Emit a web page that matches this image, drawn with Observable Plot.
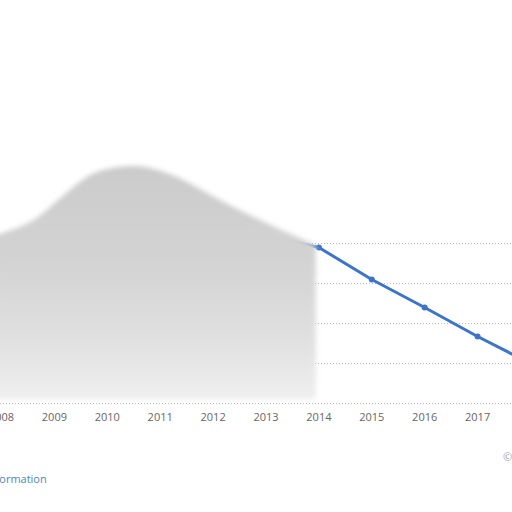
<!DOCTYPE html>
<html>
<head>
<meta charset="utf-8">
<script src="https://cdn.jsdelivr.net/npm/d3@7"></script>
<script src="https://cdn.jsdelivr.net/npm/@observablehq/plot@0.6"></script>
<style>
  html, body { margin: 0; padding: 0; background: #fff; width: 512px; height: 512px; overflow: hidden; position: relative; font-family: "Open Sans", sans-serif; }
  #chart { position: absolute; left: 0; top: 0; }
  .note { position: absolute; font-family: "Open Sans", sans-serif; font-size: 11px; white-space: nowrap; }
</style>
</head>
<body>
<div id="chart"></div>
<div class="note" style="left:-44px; top:471px; color:#4f86b5;">More information</div>
<div class="note" style="left:503px; top:449px; color:#9aa3ad;">© Statista</div>
<script>
// Years on the x axis and the series values (hidden years estimated)
const years  = [2008, 2009, 2010, 2011, 2012, 2013, 2014, 2015, 2016, 2017, 2018];
const values = [76, 90, 104, 102, 92, 84, 78, 62, 48, 33.5, 20];
// Grey obscuring blob over the left part of the chart (top edge profile)
const maskX   = [2007.9, 2008.5, 2008.83, 2009.4, 2009.78, 2010.44, 2010.8, 2011.38, 2011.95, 2012.5, 2013.1, 2013.65, 2013.95];
const maskTop = [84, 89, 95.5, 109, 116.5, 119, 118, 113, 104, 96.5, 89, 82.5, 79];
const gridTicks = [0, 20, 40, 60, 80];

const data = years.map((y, i) => ({year: y, value: values[i]}));
const mask = maskX.map((x, i) => ({x, top: maskTop[i]}));

const plot = Plot.plot({
  width: 512,
  height: 430,
  marginLeft: 0,
  marginRight: 0,
  marginTop: 0,
  marginBottom: 27,
  style: {fontFamily: "Open Sans, sans-serif", fontSize: "11px", color: "#666", background: "transparent"},
  x: {domain: [2007.981, 2017.66], axis: null},
  y: {domain: [0, 201.5], axis: null},
  marks: [
    Plot.gridY(gridTicks, {stroke: "#bbb", strokeOpacity: 1, strokeDasharray: "1,2"}),
    Plot.line(data, {x: "year", y: "value", stroke: "#3c74c8", strokeWidth: 3, clip: true}),
    Plot.dot(data, {x: "year", y: "value", r: 3, fill: "#3c74c8", clip: true}),
    Plot.areaY(mask, {x: "x", y1: 2, y2: "top", fill: "url(#blobGrad)", curve: "basis", filter: null, className: "blob"}),
    Plot.axisX(years, {tickSize: 0, tickPadding: 10, tickFormat: d => String(d), fill: "#666", fontSize: 11})
  ]
});

const ns = "http://www.w3.org/2000/svg";
const defs = document.createElementNS(ns, "defs");
defs.innerHTML = `<linearGradient id="blobGrad" x1="0" y1="0" x2="0" y2="1">
  <stop offset="0" stop-color="#cbcbcb"/>
  <stop offset="0.45" stop-color="#d4d4d4"/>
  <stop offset="0.8" stop-color="#e3e3e3"/>
  <stop offset="1" stop-color="#efefef"/>
</linearGradient>
<filter id="soft" x="-10%" y="-10%" width="120%" height="120%"><feGaussianBlur stdDeviation="2.5"/></filter>`;
plot.insertBefore(defs, plot.firstChild);
plot.querySelectorAll("g.blob path").forEach(p => p.setAttribute("filter", "url(#soft)"));
document.getElementById("chart").appendChild(plot);
</script>
</body>
</html>
